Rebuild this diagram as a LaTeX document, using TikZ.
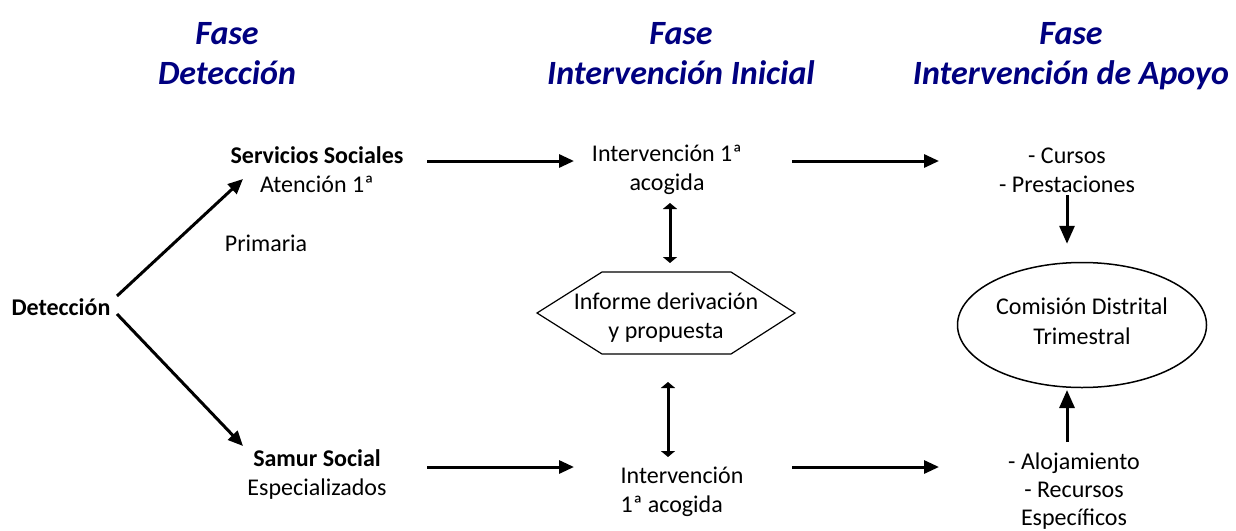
\documentclass[tikz,border=0pt]{standalone}
\usepackage{fontspec}
\setmainfont{Carlito}
\usepackage{xcolor}
\usetikzlibrary{arrows.meta, shapes.geometric}
\definecolor{fasecolor}{RGB}{0,0,128}

\begin{document}
\begin{tikzpicture}[x=0.5pt, y=-0.5pt,
  txt/.style={inner sep=0pt, align=center, font=\fontsize{12}{14.5}\selectfont},
  fase/.style={inner sep=0pt, align=center, text=fasecolor, font=\fontsize{17}{20}\selectfont\bfseries\itshape},
  arr/.style={line width=1.5pt, -{Triangle[length=7.5pt, width=6.5pt]}},
  varr/.style={line width=1.5pt, -{Triangle[length=9pt, width=7.5pt]}},
  dbl/.style={line width=1.5pt, {Triangle[length=3pt, width=7pt]}-{Triangle[length=3pt, width=7pt]}}]
\useasboundingbox (0,0) rectangle (1236,530);
\node[fase] (fdet) at (227,56) {Fase\\Detección\vphantom{p}};
\node[fase] (fini) at (681,56) {Fase\\Intervención Inicial\vphantom{p}};
\node[fase] (fapo) at (1071,56) {Fase\\Intervención de Apoyo};

\node[txt, font=\fontsize{12}{14.5}\selectfont\bfseries] (det) at (61,307) {Detección};
\node[txt] (ss) at (317,170) {\textbf{Servicios Sociales}\\Atención 1ª};
\node[txt] (prim) at (266,243) {Primaria};
\node[txt] (samur) at (317,474.5) {\textbf{Samur Social}\\Especializados};

\node[txt] (inter1) at (667,170) {Intervención 1ª\\acogida};
\draw[line width=0.6pt] (537,313) -- (602,272) -- (731,272) -- (795,313) -- (731,354) -- (602,354) -- cycle;
\node[txt] (informe) at (666,318) {Informe derivación\\y propuesta};
\node[txt, align=left] (inter2) at (682,491.5) {Intervención\\1ª acogida};

\node[txt] (cursos) at (1067,170) {- Cursos\\- Prestaciones};
\node[ellipse, draw, line width=0.75pt, minimum width=124.5pt, minimum height=62.5pt] (comision) at (1082,325) {};
\node[txt, font=\fontsize{12}{15}\selectfont] (comtxt) at (1082,321) {Comisión Distrital\\Trimestral};
\node[txt, font=\fontsize{12}{14}\selectfont] (aloj) at (1074,491) {- Alojamiento\\- Recursos\\Específicos};

\draw[arr] ([shift={(56,-11)}]det.center) -- ([shift={(-74,9)}]ss.center);
\draw[arr] ([shift={(56,7)}]det.center) -- ([shift={(-74,-28.5)}]samur.center);
\draw[arr] ([shift={(110,-9)}]ss.center) -- ([shift={(-93,-9)}]inter1.center);
\draw[arr] ([shift={(110,-7.5)}]samur.center) -- ([shift={(-108,-24.5)}]inter2.center);
\draw[arr] ([shift={(125,-9)}]inter1.center) -- ([shift={(-128,-9)}]cursos.center);
\draw[arr] ([shift={(110,-24.5)}]inter2.center) -- ([shift={(-135,-24)}]aloj.center);
\draw[dbl] ([shift={(3,33)}]inter1.center) -- ([shift={(4,-55)}]informe.center);
\draw[dbl] ([shift={(2,64)}]informe.center) -- ([shift={(-14,-34.5)}]inter2.center);
\draw[varr] ([shift={(0,25)}]cursos.center) -- ([yshift=9pt]comision.north -| cursos);
\draw[varr] ([shift={(-7,-49)}]aloj.center) -- ([shift={(-15,65)}]comision.center);
\end{tikzpicture}
\end{document}
